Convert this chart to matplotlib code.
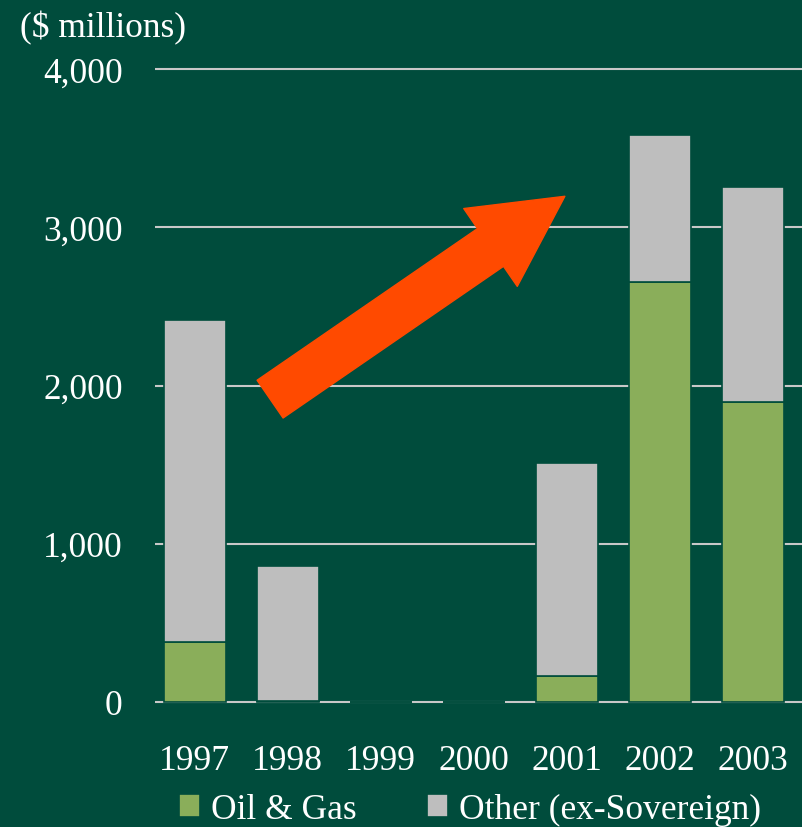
import matplotlib
matplotlib.use("Agg")
import matplotlib.pyplot as plt
import numpy as np
from matplotlib.patches import ArrowStyle

years = ["1997", "1998", "1999", "2000", "2001", "2002", "2003"]
oil_gas = [380, 5, 0, 0, 165, 2655, 1895]
other = [2035, 855, 0, 0, 1345, 930, 1360]
y_ticks = [0, 1000, 2000, 3000, 4000]

bg = "#004c3c"
green = "#8aae5a"
gray = "#bebebe"
arrow_color = "#ff4a00"

plt.rcParams["font.family"] = ["Liberation Serif", "DejaVu Serif"]

fig = plt.figure(figsize=(8.02, 8.28), dpi=100, facecolor=bg)
ax = fig.add_axes([0.193, 0.1453, 0.807, 0.7758], facecolor=bg)

x = np.arange(len(years))
width = 0.67
ax.bar(x, oil_gas, width, color=green, edgecolor=bg, linewidth=1.2,
       label="Oil & Gas", zorder=3)
ax.bar(x, other, width, bottom=oil_gas, color=gray, edgecolor=bg,
       linewidth=1.2, label="Other (ex-Sovereign)", zorder=3)

ax.set_ylim(-30, 4030)
ax.set_xlim(-0.43, 6.53)
ax.set_yticks(y_ticks)
ax.set_yticklabels([f"{v:,}" for v in y_ticks])
ax.set_xticks(x)
ax.set_xticklabels(years)
ax.grid(axis="y", color="#c8c8c8", linewidth=1.5, zorder=1)
ax.tick_params(axis="y", length=0, pad=23, labelsize=25.5, labelcolor="white")
ax.tick_params(axis="x", length=0, pad=27, labelsize=25.5, labelcolor="white")
for s in ax.spines.values():
    s.set_visible(False)

# big upward arrow
ax.annotate("", xy=(3.98, 3196), xytext=(0.81, 1914),
            arrowprops=dict(arrowstyle=ArrowStyle.Simple(head_length=65, head_width=68, tail_width=33),
                            mutation_scale=1, color=arrow_color, shrinkA=0, shrinkB=0),
            zorder=5)

fig.text(0.025, 0.966, "($ millions)", fontsize=25.5, color="white", va="center", ha="left")

fig.legend(loc="center", bbox_to_anchor=(0.586, 0.021), ncol=2, frameon=False,
           fontsize=25.5, labelcolor="white", handlelength=0.6, handleheight=0.6,
           handletextpad=0.3, columnspacing=2.0, borderpad=0)

fig.savefig("out.png", dpi=100, facecolor=bg)
